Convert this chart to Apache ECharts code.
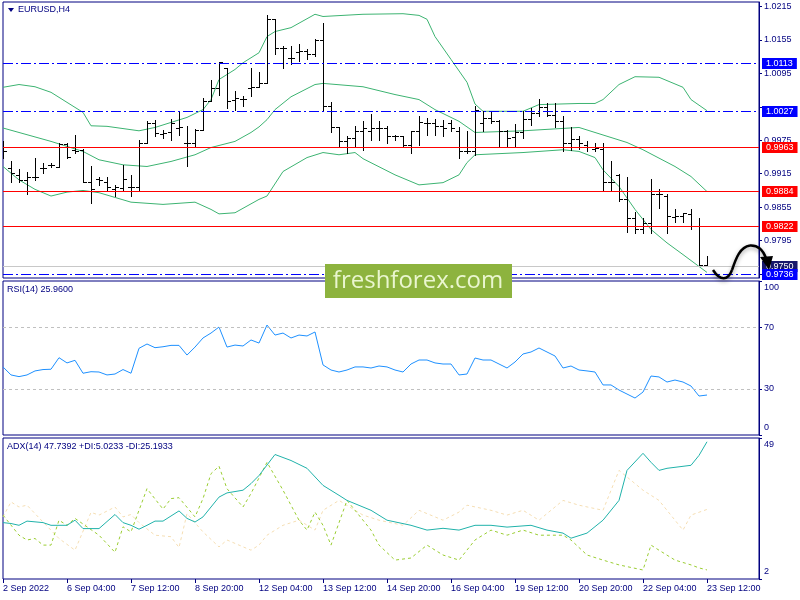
<!DOCTYPE html>
<html><head><meta charset="utf-8">
<script src="https://cdn.jsdelivr.net/npm/echarts@6/dist/echarts.min.js"></script>
<style>html,body{margin:0;padding:0;background:#fff}#c{width:800px;height:600px}</style>
</head><body><div id="c"></div>
<script>
// ---- data ----
const timeLabels = ['2 Sep 2022','6 Sep 04:00','7 Sep 12:00','8 Sep 20:00','12 Sep 04:00','13 Sep 12:00','14 Sep 20:00','16 Sep 04:00','19 Sep 12:00','20 Sep 20:00','22 Sep 04:00','23 Sep 12:00'];
const labelBars = [0,8,16,24,32,40,48,56,64,72,80,88];
const priceTicks = [0.9735,0.9795,0.9855,0.9915,0.9975,1.0035,1.0095,1.0155,1.0215];
const priceLabels = [0.9795,0.9855,0.9915,0.9975,1.0095,1.0155,1.0215];
const rsiTicks = [0,30,70,100];
const adxTicks = [2,49];

const barOpen = [0.9955,0.9925,0.9913,0.9904,0.9909,0.9925,0.9930,0.9927,0.9969,0.9957,0.9957,0.9901,0.9906,0.9901,0.9888,0.9890,0.9891,0.9891,0.9971,1.0006,0.9986,0.9989,0.9997,0.9970,0.9970,0.9994,1.0045,1.0069,1.0105,1.0048,1.0049,1.0069,1.0071,1.0078,1.0192,1.0141,1.0123,1.0133,1.0135,1.0129,1.0154,1.0037,0.9998,0.9973,0.9979,0.9991,0.9991,0.9997,0.9997,0.9982,0.9982,0.9967,0.9991,1.0006,1.0006,1.0000,1.0006,0.9992,0.9955,0.9955,1.0006,1.0015,1.0009,0.9991,0.9981,0.9989,1.0013,1.0024,1.0035,1.0021,1.0009,0.9970,0.9978,0.9967,0.9960,0.9960,0.9901,0.9912,0.9870,0.9836,0.9815,0.9826,0.9878,0.9875,0.9838,0.9839,0.9842,0.9822,0.9752];
const barHigh = [0.9973,0.9937,0.9924,0.9919,0.9943,0.9934,0.9934,0.9970,0.9970,0.9985,0.9960,0.9928,0.9910,0.9909,0.9895,0.9930,0.9913,0.9976,1.0010,1.0011,0.9994,1.0013,1.0027,1.0000,0.9995,1.0051,1.0084,1.0115,1.0105,1.0063,1.0055,1.0105,1.0097,1.0199,1.0192,1.0144,1.0144,1.0147,1.0138,1.0156,1.0186,1.0043,0.9998,0.9983,1.0000,1.0009,1.0023,1.0009,1.0000,0.9985,0.9982,0.9991,1.0018,1.0015,1.0014,1.0011,1.0012,0.9998,0.9991,1.0036,1.0027,1.0027,1.0012,0.9994,1.0005,1.0027,1.0033,1.0049,1.0041,1.0041,1.0019,0.9999,0.9983,0.9973,0.9970,0.9970,0.9937,0.9915,0.9910,0.9846,0.9836,0.9906,0.9887,0.9878,0.9851,0.9845,0.9852,0.9836,0.9768];
const barLow = [0.9943,0.9901,0.9900,0.9878,0.9904,0.9917,0.9927,0.9927,0.9943,0.9952,0.9900,0.9863,0.9895,0.9884,0.9875,0.9885,0.9875,0.9884,0.9971,0.9982,0.9979,0.9976,0.9985,0.9928,0.9963,0.9994,1.0045,1.0057,1.0033,1.0030,1.0036,1.0054,1.0070,1.0078,1.0129,1.0105,1.0111,1.0117,1.0120,1.0126,1.0030,0.9989,0.9964,0.9953,0.9964,0.9958,0.9976,0.9976,0.9970,0.9976,0.9964,0.9953,0.9967,0.9985,0.9985,0.9982,0.9991,0.9944,0.9952,0.9949,0.9991,1.0006,0.9964,0.9964,0.9964,0.9979,1.0003,1.0018,1.0018,0.9999,0.9955,0.9957,0.9960,0.9955,0.9955,0.9885,0.9885,0.9866,0.9810,0.9809,0.9808,0.9809,0.9854,0.9809,0.9828,0.9828,0.9816,0.9750,0.9750];
const barClose = [0.9955,0.9917,0.9904,0.9909,0.9909,0.9925,0.9930,0.9969,0.9945,0.9955,0.9901,0.9887,0.9904,0.9891,0.9891,0.9906,0.9891,0.9971,1.0006,0.9988,0.9988,1.0006,0.9998,0.9970,0.9994,1.0045,1.0069,1.0115,1.0045,1.0051,1.0049,1.0071,1.0078,1.0192,1.0141,1.0141,1.0123,1.0135,1.0129,1.0154,1.0037,0.9998,0.9973,0.9979,0.9991,0.9997,0.9997,0.9997,0.9982,0.9982,0.9967,0.9991,1.0007,1.0006,1.0000,0.9997,0.9997,0.9955,0.9955,1.0030,1.0015,1.0009,0.9991,0.9979,0.9989,1.0013,1.0024,1.0035,1.0021,1.0009,0.9970,0.9978,0.9970,0.9963,0.9961,0.9901,0.9901,0.9870,0.9836,0.9815,0.9826,0.9878,0.9878,0.9839,0.9839,0.9845,0.9822,0.9752,0.9750];

const bbUpper = [[0,1.0070],[2,1.0075],[4,1.0071],[6,1.0061],[8,1.0043],[10,1.0025],[11,1.0001],[13,1.0000],[17,0.9992],[19,0.9998],[21,1.0007],[23,1.0016],[25,1.0030],[26,1.0048],[27,1.0084],[29,1.0102],[30,1.0114],[32,1.0132],[33,1.0161],[34,1.0170],[36,1.0177],[39,1.0201],[40,1.0197],[45,1.0201],[50,1.0202],[52,1.0199],[53,1.0192],[54,1.0161],[56,1.0120],[58,1.0079],[59,1.0040],[60,1.0027],[65,1.0027],[67,1.0039],[72,1.0041],[74,1.0041],[75,1.0048],[77,1.0075],[79,1.0089],[82,1.0088],[85,1.0070],[86,1.0048],[88,1.0028]];
const bbMiddle = [[0,0.9997],[2,0.9989],[6,0.9973],[10,0.9955],[12,0.9940],[15,0.9931],[18,0.9928],[21,0.9937],[24,0.9949],[26,0.9962],[29,0.9973],[31,0.9989],[32,0.9999],[33,1.0012],[34,1.0030],[36,1.0053],[39,1.0075],[40,1.0077],[45,1.0071],[49,1.0057],[52,1.0048],[54,1.0030],[57,1.0009],[59,0.9989],[65,0.9992],[72,0.9998],[74,0.9989],[78,0.9971],[80,0.9958],[84,0.9928],[86,0.9910],[88,0.9883]];
const bbLower = [[0,0.9928],[2,0.9904],[4,0.9887],[6,0.9875],[8,0.9882],[10,0.9885],[12,0.9881],[16,0.9864],[20,0.9860],[24,0.9864],[26,0.9851],[27,0.9843],[29,0.9845],[32,0.9869],[33,0.9875],[35,0.9919],[38,0.9944],[40,0.9953],[42,0.9949],[44,0.9953],[45,0.9942],[49,0.9913],[52,0.9895],[55,0.9899],[57,0.9913],[58,0.9935],[59,0.9949],[65,0.9953],[67,0.9955],[70,0.9958],[72,0.9955],[74,0.9944],[75,0.9922],[77,0.9892],[79,0.9851],[81,0.9815],[83,0.9791],[85,0.9770],[88,0.9738]];

// price levels (drawn in this order; later ones on top)
const levelValues = [0.9750, 1.0113, 1.0027, 0.9963, 0.9884, 0.9822, 0.9736];
const levelKinds = ['bid', 'blue', 'blue', 'red', 'red', 'red', 'blue'];

const rsiValues = [44.2,39.0,37.9,39.0,41.6,42.5,42.7,50.2,46.8,48.5,40.1,41.1,40.9,39.0,39.6,42.5,40.1,56.3,59.1,56.7,57.3,58.2,58.2,51.9,57.1,63.0,66.2,70.1,57.1,58.4,57.8,61.7,59.7,71.4,64.9,66.2,63.0,64.9,64.3,66.9,45.5,42.2,40.9,42.2,44.2,44.2,43.5,44.8,44.2,42.2,40.9,46.1,48.7,48.7,46.8,46.1,46.1,39.0,39.6,50.0,48.7,48.7,46.1,43.5,47.4,52.6,53.9,56.5,53.9,51.3,43.5,44.8,42.2,41.6,40.9,32.5,32.5,29.2,26.6,24.0,27.9,38.3,37.7,34.4,35.7,34.4,31.8,25.3,25.96];
const rsiLevels = [70, 30];

const adxMain = [[0,20.8],[1,20.5],[2,19.9],[3,21.3],[5,20.8],[6,19.9],[8,19.9],[9,21.6],[10,18.8],[12,18.8],[14,23.5],[15,20.8],[16,19.9],[17,18.6],[18,19.9],[19,21.3],[20,21.3],[22,24.7],[23,22.2],[24,21.0],[25,22.7],[26,26.0],[27,29.3],[28,30.7],[30,31.6],[31,33.8],[32,36.5],[34,43.5],[36,41.5],[38,38.9],[40,33.2],[42,29.9],[43,28.2],[46,24.9],[48,21.6],[51,19.9],[53,18.3],[55,18.9],[57,18.3],[59,19.9],[61,19.9],[63,19.3],[66,19.9],[68,18.3],[70,17.3],[71,15.6],[73,17.3],[75,21.6],[77,28.2],[78,38.2],[80,43.9],[81,40.9],[82,38.2],[83,38.9],[86,39.9],[87,43.2],[88,47.74]];
const plusDI = [[0,23.3],[2,16.6],[3,15.0],[4,15.5],[5,13.3],[6,13.3],[7,21.6],[8,19.9],[9,22.2],[12,16.6],[14,10.9],[15,19.4],[16,17.7],[18,32.1],[20,25.3],[21,28.8],[22,29.1],[24,22.7],[25,28.8],[26,37.1],[27,39.6],[28,32.1],[30,26.0],[31,30.5],[33,40.9],[35,31.6],[36,26.6],[37,21.6],[38,18.3],[39,24.3],[40,19.9],[41,13.3],[43,28.2],[44,24.9],[46,18.3],[47,13.3],[49,8.3],[51,9.0],[53,13.3],[55,10.0],[57,8.3],[59,15.0],[61,18.3],[63,16.6],[65,18.3],[67,16.6],[70,16.6],[71,15.0],[73,10.0],[75,8.3],[77,6.7],[80,5.0],[81,13.3],[82,11.6],[84,8.3],[86,6.7],[87,5.7],[88,5.02]];
const minusDI = [[0,22.7],[1,27.7],[2,26.0],[3,26.6],[5,21.0],[7,15.5],[9,11.6],[11,24.2],[12,23.3],[14,26.0],[15,22.7],[16,23.5],[17,20.8],[19,16.6],[21,16.1],[22,12.5],[23,23.8],[25,17.7],[27,12.7],[28,15.0],[31,11.6],[32,13.3],[33,16.6],[35,19.9],[37,21.6],[39,18.3],[40,24.9],[42,28.2],[44,24.9],[45,23.3],[47,21.6],[50,19.9],[52,24.9],[55,21.6],[57,24.3],[58,26.6],[61,24.9],[63,23.3],[65,24.9],[67,21.6],[70,28.2],[72,26.6],[75,24.9],[77,38.2],[80,31.6],[82,28.2],[85,18.3],[86,23.3],[88,25.19]];

// ---- chart ----
const FONT = 'Liberation Sans';
const NAVY = '#000080';
const X_MIN = 0, X_MAX = 94.5;
const ohlc = barOpen.map((o, i) => [i, o, barHigh[i], barLow[i], barClose[i]]);
const rsiData = rsiValues.map((v, i) => [i, v]);
const levelData = levelValues.map((v, i) => [X_MIN, v, i]);
const kindStyle = {
  bid:  {color: '#c8c8c8', dash: null, bg: '#17176b'},
  red:  {color: '#ff0000', dash: null, bg: '#ff0000'},
  blue: {color: '#0000ff', dash: [10, 3, 2, 3], bg: '#0000ff'}
};

function xAx(idx, show) {
  return {
    type: 'value', gridIndex: idx, min: X_MIN, max: X_MAX,
    axisLine: {show: false, onZero: false}, splitLine: {show: false},
    axisTick: {show: show, customValues: labelBars, length: 4, lineStyle: {color: NAVY}},
    axisLabel: {show: show, customValues: labelBars, align: 'left', margin: 5,
      color: NAVY, fontFamily: FONT, fontSize: 9,
      formatter: v => timeLabels[labelBars.indexOf(Math.round(v))] || ''}
  };
}
function yAx(idx, min, max, ticks, labels, fmt, shiftTop, shiftBot) {
  return {
    type: 'value', gridIndex: idx, position: 'right', min: min, max: max,
    axisLine: {show: true, onZero: false, lineStyle: {color: NAVY}},
    axisTick: {show: true, inside: false, customValues: ticks, length: 3, lineStyle: {color: NAVY}},
    minorTick: {show: false}, splitLine: {show: false}, splitArea: {show: false},
    axisLabel: {customValues: labels, margin: 5, color: NAVY, fontFamily: FONT, fontSize: 9,
      formatter: v => {
        const s = fmt(v);
        if (shiftTop && Math.abs(v - max) < 1e-9) return '{t|' + s + '}';
        if (shiftBot && Math.abs(v - min) < 1e-9) return '{b|' + s + '}';
        return s;
      },
      rich: {t: {padding: [shiftTop || 0, 0, 0, 0]}, b: {padding: [0, 0, shiftBot || 0, 0]}}}
  };
}
function lineS(data, xi, color, type) {
  return {type: 'line', xAxisIndex: xi, yAxisIndex: xi, data: data, showSymbol: false, symbol: 'none',
    silent: true, itemStyle: {color: color}, lineStyle: {color: color, width: 1, type: type || 'solid'}, z: 3};
}

const arrowStyle = {stroke: '#000', lineWidth: 2.5, fill: 'none', shadowBlur: 4, shadowColor: 'rgba(0,0,0,0.35)', shadowOffsetY: 2};

const chart = echarts.init(document.getElementById('c'));
chart.setOption({
  animation: false,
  grid: [
    {left: 3, right: 41, top: 2, height: 276, show: true, borderColor: NAVY, borderWidth: 1},
    {left: 3, right: 41, top: 281, height: 154, show: true, borderColor: NAVY, borderWidth: 1},
    {left: 3, right: 41, top: 438, height: 141, show: true, borderColor: NAVY, borderWidth: 1}
  ],
  xAxis: [xAx(0, false), xAx(1, false), xAx(2, true)],
  yAxis: [
    yAx(0, 0.9728, 1.0223, priceTicks, priceLabels, v => v.toFixed(4)),
    yAx(1, 0, 100, rsiTicks, rsiTicks, v => String(Math.round(v)), 14, 14),
    yAx(2, 2, 49, adxTicks, adxTicks, v => String(Math.round(v)), 13, 14)
  ],
  series: [
    lineS(bbUpper, 0, '#3cb371'),
    lineS(bbMiddle, 0, '#3cb371'),
    lineS(bbLower, 0, '#3cb371'),
    {
      type: 'custom', xAxisIndex: 0, yAxisIndex: 0, data: ohlc, clip: true, z: 4, silent: true,
      encode: {x: 0, y: [1, 2, 3, 4]},
      renderItem: function (params, api) {
        const x = api.value(0);
        const o = api.coord([x, api.value(1)]);
        const h = api.coord([x, api.value(2)]);
        const l = api.coord([x, api.value(3)]);
        const c = api.coord([x, api.value(4)]);
        const px = Math.round(o[0]) + 0.5;
        const st = {stroke: '#000', lineWidth: 1};
        return {type: 'group', children: [
          {type: 'line', shape: {x1: px, y1: Math.round(h[1]), x2: px, y2: Math.round(l[1]) + 1}, style: st},
          {type: 'line', shape: {x1: px - 3.5, y1: Math.round(o[1]) + 0.5, x2: px, y2: Math.round(o[1]) + 0.5}, style: st},
          {type: 'line', shape: {x1: px, y1: Math.round(c[1]) + 0.5, x2: px + 3.5, y2: Math.round(c[1]) + 0.5}, style: st}
        ]};
      }
    },
    {
      type: 'custom', xAxisIndex: 0, yAxisIndex: 0, data: levelData, clip: false, z: 6, silent: true,
      encode: {x: 0, y: 1},
      renderItem: function (params, api) {
        const v = api.value(1);
        const k = kindStyle[levelKinds[api.value(2)]];
        const cs = params.coordSys;
        const y = Math.round(api.coord([X_MIN, v])[1]);
        const end = cs.x + cs.width;
        const children = [];
        if (k.dash) {
          let xx = cs.x, j = 0;
          while (xx < end) {
            const len = k.dash[j % k.dash.length];
            if (j % 2 === 0) {
              children.push({type: 'rect', shape: {x: xx, y: y, width: Math.min(len, end - xx), height: 1},
                style: {fill: k.color}});
            }
            xx += len; j++;
          }
        } else {
          children.push({type: 'rect', shape: {x: cs.x, y: y, width: cs.width, height: 1}, style: {fill: k.color}});
        }
        children.push({type: 'text', x: end + 3, y: y + 0.5,
          style: {text: v.toFixed(4), fill: '#fff', backgroundColor: k.bg, padding: [1, 4, 1, 4],
            fontSize: 9, fontFamily: FONT, lineHeight: 9, verticalAlign: 'middle', align: 'left'}});
        return {type: 'group', children: children};
      }
    },
    Object.assign(lineS(rsiData, 1, '#1e90ff'), {
      markLine: {silent: true, symbol: ['none', 'none'], label: {show: false},
        lineStyle: {color: '#c0c0c0', type: [3, 3], width: 1},
        data: rsiLevels.map(v => ({yAxis: v}))}
    }),
    lineS(minusDI, 2, '#f5deb3', [3, 3]),
    lineS(plusDI, 2, '#9acd32', [3, 3]),
    lineS(adxMain, 2, '#20b2aa')
  ],
  graphic: [
    {type: 'polygon', shape: {points: [[8, 8], [14, 8], [11, 12]]}, style: {fill: NAVY}, z: 10},
    {type: 'text', x: 18, y: 10, style: {text: 'EURUSD,H4', fill: NAVY, fontSize: 9, fontFamily: FONT, verticalAlign: 'middle'}, z: 10},
    {type: 'text', x: 7, y: 290, style: {text: 'RSI(14) 25.9600', fill: NAVY, fontSize: 9, fontFamily: FONT, verticalAlign: 'middle'}, z: 10},
    {type: 'text', x: 7, y: 447, style: {text: 'ADX(14) 47.7392 +DI:5.0233 -DI:25.1933', fill: NAVY, fontSize: 9, fontFamily: FONT, verticalAlign: 'middle'}, z: 10},
    {type: 'rect', shape: {x: 325, y: 264, width: 187, height: 34}, style: {fill: '#8db33e'}, z: 20},
    {type: 'text', x: 418, y: 281, style: {text: 'freshforex.com', fill: '#eaf6cf', fontSize: 24, fontFamily: 'Open Sans', align: 'center', verticalAlign: 'middle'}, z: 21},
    {type: 'bezierCurve', shape: {x1: 713, y1: 270, cpx1: 720, cpy1: 281, cpx2: 728, cpy2: 281, x2: 732, y2: 270}, style: arrowStyle, z: 30},
    {type: 'bezierCurve', shape: {x1: 732, y1: 270, cpx1: 736, cpy1: 258, cpx2: 740, cpy2: 247, x2: 750, y2: 245.5}, style: arrowStyle, z: 30},
    {type: 'bezierCurve', shape: {x1: 750, y1: 245.5, cpx1: 758, cpy1: 245, cpx2: 763, cpy2: 250, x2: 766, y2: 258}, style: arrowStyle, z: 30},
    {type: 'polygon', shape: {points: [[760, 257], [773, 256], [769, 270]]}, style: {fill: '#000'}, z: 30}
  ]
});
</script></body></html>
